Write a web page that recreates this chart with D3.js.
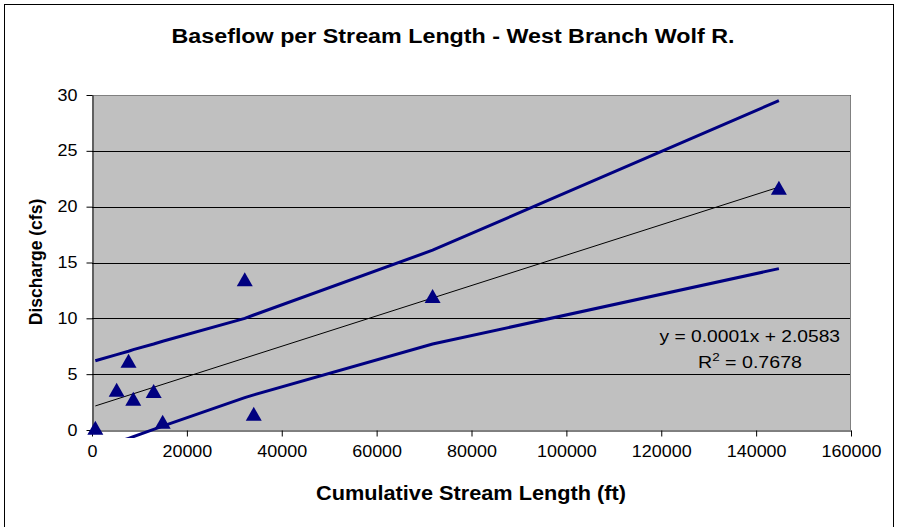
<!DOCTYPE html>
<html>
<head>
<meta charset="utf-8">
<script src="https://cdn.jsdelivr.net/npm/d3@7"></script>
<style>
  body { margin: 0; background: #fff; }
  text { font-family: Arial, "Liberation Sans", sans-serif; }
</style>
</head>
<body>
<svg id="chart"></svg>
<script>
// ---- data ----
const lengthFt  = [700, 5200, 7700, 8700, 13000, 14900, 32200, 34100, 71800, 144800];
const discharge = [0.2, 3.6, 6.2, 2.8, 3.5, 0.75, 13.5, 1.45, 12.0, 21.7];
// upper / lower bands, one value per sorted x above
const upperBand = [6.2, 6.75, 7.05, 7.2, 7.7, 7.95, 10.0, 10.3, 16.1, 29.5];
const lowerBand = [-1.8, -1.1, -0.75, -0.6, 0.06, 0.34, 2.9, 3.15, 7.7, 14.45];
const trendSlope = 0.000136;
const trendIntercept = 2.0583;
const xTicks = [0, 20000, 40000, 60000, 80000, 100000, 120000, 140000, 160000];
const yTicks = [0, 5, 10, 15, 20, 25, 30];

const W = 898, H = 527;
const plot = { left: 92, right: 851, top: 95, bottom: 430 };

const svg = d3.select("#chart").attr("width", W).attr("height", H);

// widen text horizontally, keeping its height
function widen(sel, k) {
  sel.each(function () {
    const len = this.getComputedTextLength();
    d3.select(this).attr("textLength", len * k).attr("lengthAdjust", "spacingAndGlyphs");
  });
}

// outer chart border
svg.append("rect")
  .attr("x", 4.5).attr("y", 4.5)
  .attr("width", 889).attr("height", 530)
  .attr("fill", "#fff").attr("stroke", "#000").attr("stroke-width", 1);

const x = d3.scaleLinear().domain([0, 160000]).range([plot.left, plot.right]);
const y = d3.scaleLinear().domain([0, 30]).range([plot.bottom, plot.top]);

// plot background
svg.append("rect")
  .attr("x", plot.left).attr("y", plot.top)
  .attr("width", plot.right - plot.left).attr("height", plot.bottom - plot.top)
  .attr("fill", "#c0c0c0");

// gridlines
svg.append("g").selectAll("line")
  .data(yTicks.filter(d => d > 0))
  .join("line")
  .attr("x1", plot.left).attr("x2", plot.right)
  .attr("y1", d => Math.round(y(d)) + 0.5).attr("y2", d => Math.round(y(d)) + 0.5)
  .attr("stroke", "#000").attr("stroke-width", 1);

// plot frame (top / right grey)
svg.append("path")
  .attr("d", `M${plot.left},${plot.top + 0.5}H${plot.right - 0.5}V${plot.bottom}`)
  .attr("fill", "none").attr("stroke", "#808080").attr("stroke-width", 1);

// axes
const xAxis = d3.axisBottom(x).tickValues(xTicks).tickSize(6).tickSizeOuter(0).tickPadding(9)
  .tickFormat(d3.format("d"));
const yAxis = d3.axisLeft(y).tickValues(yTicks).tickSize(6).tickSizeOuter(0).tickPadding(9);

const gx = svg.append("g").attr("transform", `translate(0,${plot.bottom + 0.5})`).call(xAxis);
const gy = svg.append("g").attr("transform", `translate(${plot.left + 0.5},0)`).call(yAxis);
[gx, gy].forEach(g => {
  g.selectAll("path,line").attr("stroke", "#000");
  g.selectAll("text").attr("font-size", 16).attr("fill", "#000");
});
gx.selectAll("text").attr("dy", "0.71em");
widen(gx.selectAll("text"), 1.12);
widen(gy.selectAll("text"), 1.12);

// clip for series lines (lets the lower band run a bit below the axis)
svg.append("clipPath").attr("id", "clip")
  .append("rect")
  .attr("x", plot.left).attr("y", plot.top)
  .attr("width", plot.right - plot.left).attr("height", plot.bottom - plot.top + 8);

const lines = svg.append("g").attr("clip-path", "url(#clip)");
const bandLine = d3.line().x((d, i) => x(lengthFt[i])).y(d => y(d));

[upperBand, lowerBand].forEach(band => {
  lines.append("path")
    .attr("d", bandLine(band))
    .attr("fill", "none").attr("stroke", "#000080").attr("stroke-width", 3);
});

// linear trendline
const xMin = d3.min(lengthFt), xMax = d3.max(lengthFt);
lines.append("line")
  .attr("x1", x(xMin)).attr("y1", y(trendIntercept + trendSlope * xMin))
  .attr("x2", x(xMax)).attr("y2", y(trendIntercept + trendSlope * xMax))
  .attr("stroke", "#000").attr("stroke-width", 1);

// triangle markers, centred on their box like Excel does
const triW = 16, triH = 14;
const triPath = `M0,${-triH / 2}L${triW / 2},${triH / 2}L${-triW / 2},${triH / 2}Z`;
svg.append("g").selectAll("path")
  .data(lengthFt.map((d, i) => [d, discharge[i]]))
  .join("path")
  .attr("d", triPath)
  .attr("transform", d => `translate(${x(d[0])},${y(d[1])})`)
  .attr("fill", "#000080");

// trend equation
const eq = svg.append("g").attr("font-size", 16).attr("fill", "#000");
const eq1 = eq.append("text").attr("x", 840).attr("y", 342).attr("text-anchor", "end")
  .text("y = 0.0001x + 2.0583");
widen(eq1, 1.2);
const r2 = eq.append("text").attr("x", 698).attr("y", 368);
r2.append("tspan").text("R");
r2.append("tspan").attr("dy", -7).attr("font-size", 11).text("2");
r2.append("tspan").attr("dy", 7).text(" = 0.7678");
r2.attr("textLength", 104).attr("lengthAdjust", "spacingAndGlyphs");

// titles
const title = svg.append("text")
  .attr("x", 453).attr("y", 43).attr("text-anchor", "middle")
  .attr("font-size", 19.5).attr("font-weight", "bold")
  .text("Baseflow per Stream Length - West Branch Wolf R.");
title.attr("textLength", 563).attr("lengthAdjust", "spacingAndGlyphs");

const xTitle = svg.append("text")
  .attr("x", 471).attr("y", 500).attr("text-anchor", "middle")
  .attr("font-size", 19.5).attr("font-weight", "bold")
  .text("Cumulative Stream Length (ft)");
xTitle.attr("textLength", 310).attr("lengthAdjust", "spacingAndGlyphs");

svg.append("text")
  .attr("transform", `translate(42,262) rotate(-90)`)
  .attr("text-anchor", "middle")
  .attr("font-size", 17.5).attr("font-weight", "bold")
  .text("Discharge (cfs)");
</script>
</body>
</html>
